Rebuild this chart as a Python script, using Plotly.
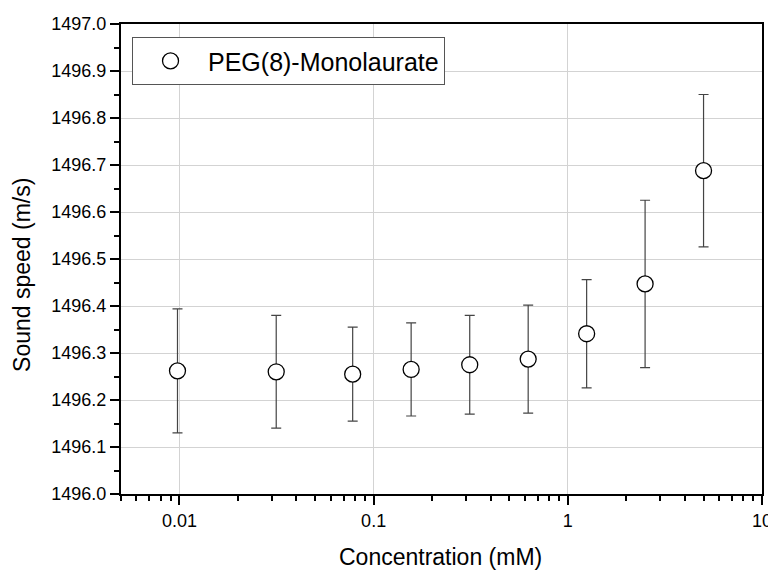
import plotly.graph_objects as go

concentration_mM = [0.00977, 0.0315, 0.078, 0.156, 0.3125, 0.625, 1.25, 2.5, 5.0]
sound_speed = [1496.262, 1496.260, 1496.255, 1496.265, 1496.275, 1496.287, 1496.341, 1496.447, 1496.688]
sound_speed_err = [0.132, 0.120, 0.100, 0.099, 0.105, 0.115, 0.115, 0.178, 0.162]
series_name = "PEG(8)-Monolaurate"
x_title = "Concentration (mM)"
y_title = "Sound speed (m/s)"
x_tickvals = [0.01, 0.1, 1, 10]
x_ticktext = ["0.01", "0.1", "1", "10"]
y_tickvals = [1496.0, 1496.1, 1496.2, 1496.3, 1496.4, 1496.5, 1496.6, 1496.7, 1496.8, 1496.9, 1497.0]

FONT = "Liberation Sans, Arial, sans-serif"

fig = go.Figure()
fig.add_trace(go.Scatter(
    x=concentration_mM,
    y=sound_speed,
    mode="markers",
    name=series_name,
    marker=dict(symbol="circle", size=16, color="white",
                line=dict(color="black", width=1.3)),
    error_y=dict(type="data", array=sound_speed_err, visible=True,
                 color="#444444", thickness=1.2, width=5),
))

# axis titles as annotations for precise placement
fig.add_annotation(text=x_title, xref="paper", yref="paper", x=0.4985, y=-0.134,
                   xanchor="center", yanchor="middle", showarrow=False,
                   font=dict(family=FONT, size=23, color="black"))
fig.add_annotation(text=y_title, xref="paper", yref="paper", x=-0.1545, y=0.466,
                   xanchor="center", yanchor="middle", textangle=-90, showarrow=False,
                   font=dict(family=FONT, size=23, color="black"))

# the page body adds an 8px offset, so margins are compensated
fig.update_layout(
    width=776, height=570,
    margin=dict(l=113, r=22, t=16, b=84, autoexpand=False),
    paper_bgcolor="white",
    plot_bgcolor="white",
    font=dict(family=FONT, color="black", size=18),
    showlegend=True,
    legend=dict(
        x=0.0172, y=0.972, xanchor="left", yanchor="top",
        bordercolor="#555555", borderwidth=1, bgcolor="white",
        font=dict(family=FONT, size=25, color="black"),
        itemwidth=65,
        tracegroupgap=0,
    ),
    xaxis=dict(
        type="log",
        range=[-2.30103, 1.0],
        tickvals=x_tickvals, ticktext=x_ticktext,
        ticks="outside", ticklen=9, tickwidth=2, tickcolor="black",
        showline=True, linecolor="black", linewidth=2, mirror=True,
        showgrid=True, gridcolor="#d3d3d3", gridwidth=1,
        zeroline=False, automargin=False,
        tickfont=dict(family=FONT, size=18),
        minor=dict(dtick="D1", ticks="outside", ticklen=5, tickwidth=1.5,
                   tickcolor="black", showgrid=False),
    ),
    yaxis=dict(
        range=[1496.0, 1497.0],
        tickvals=y_tickvals,
        tickformat=".1f",
        ticks="outside", ticklen=9, tickwidth=2, tickcolor="black",
        showline=True, linecolor="black", linewidth=2, mirror=True,
        showgrid=True, gridcolor="#d3d3d3", gridwidth=1,
        zeroline=False, automargin=False,
        tickfont=dict(family=FONT, size=18),
        minor=dict(dtick=0.05, ticks="outside", ticklen=5, tickwidth=1.5,
                   tickcolor="black", showgrid=False),
    ),
)

fig.write_html("out.html")
